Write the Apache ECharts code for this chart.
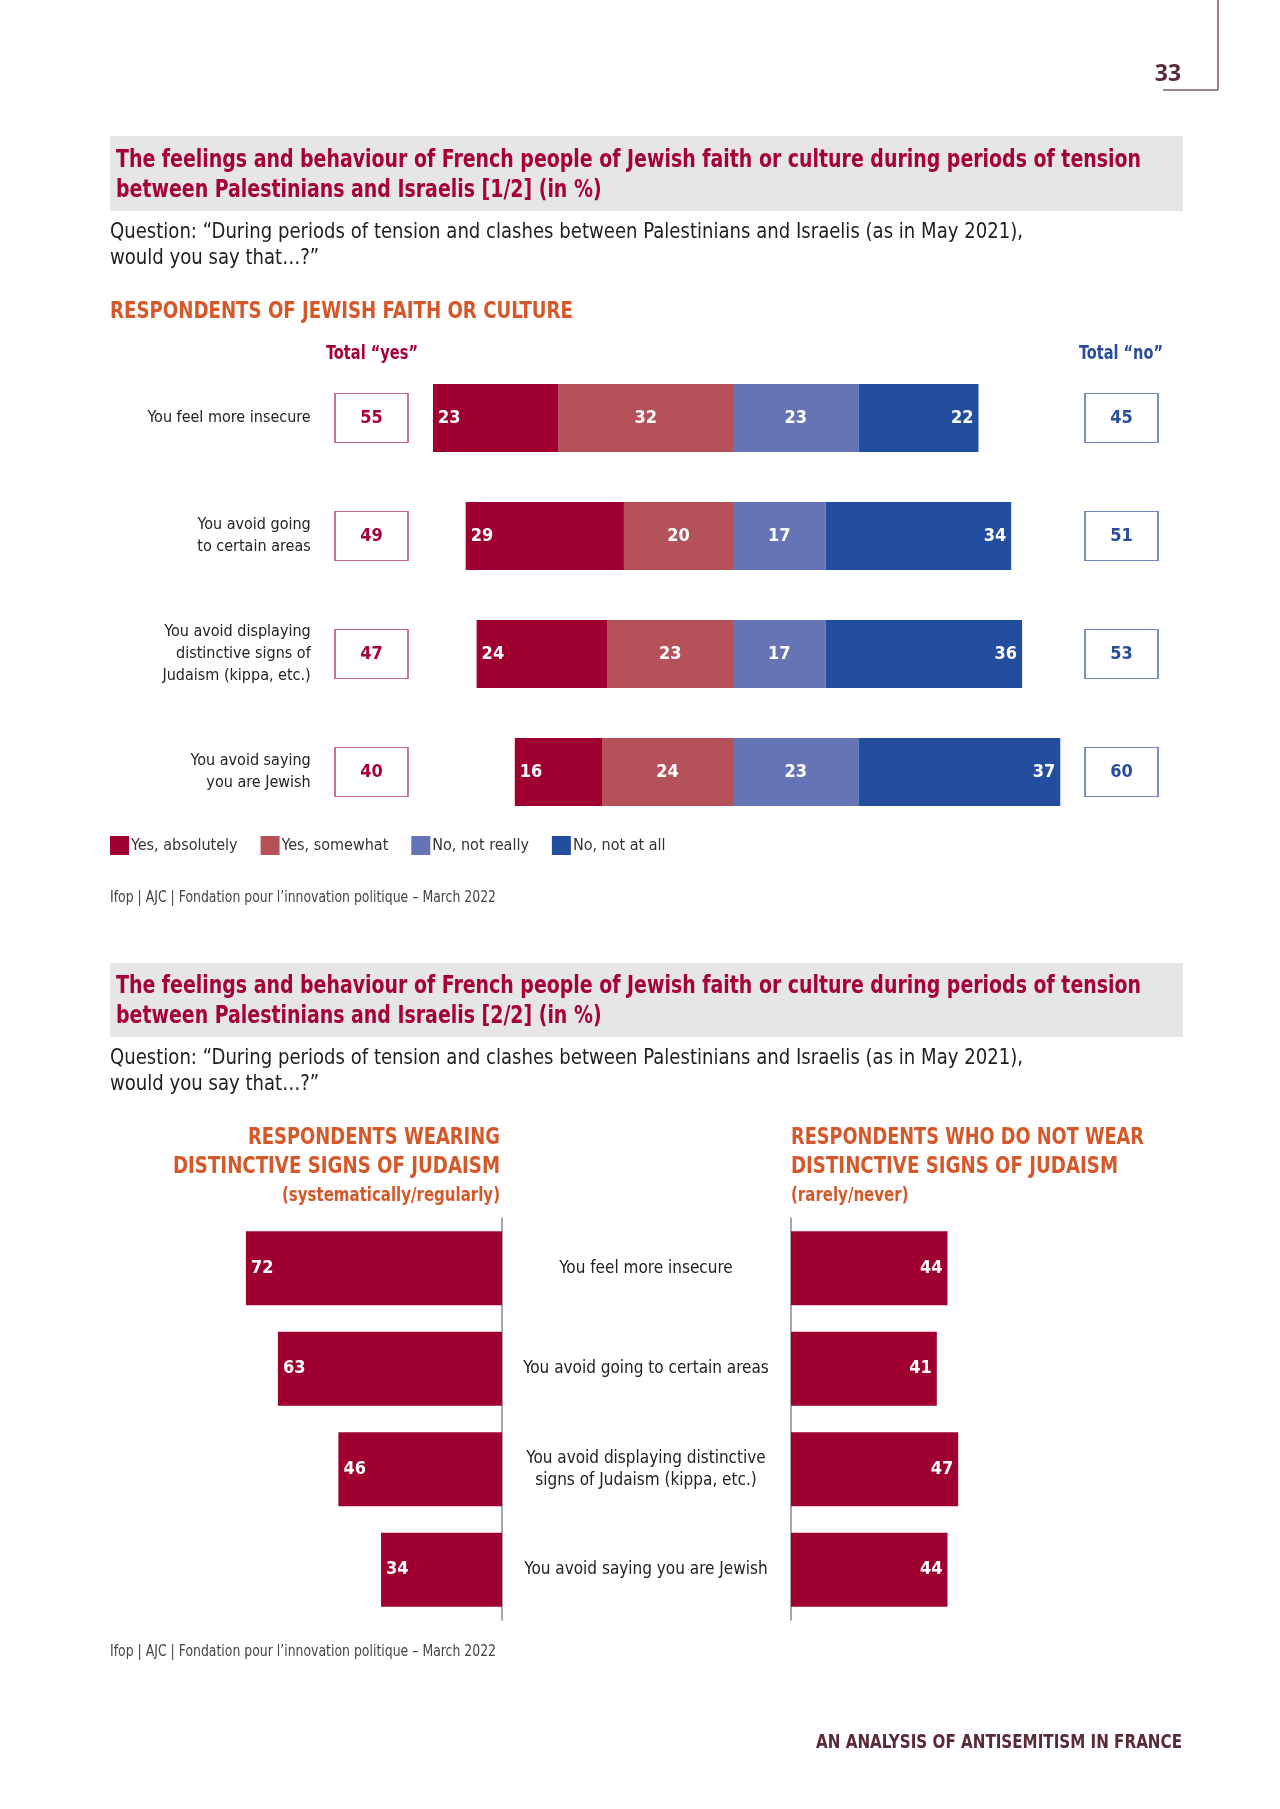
<!DOCTYPE html>
<html>
<head>
<meta charset="utf-8">
<script src="https://cdn.jsdelivr.net/npm/echarts@6/dist/echarts.min.js"></script>
<style>
html,body{margin:0;padding:0;background:#fff;}
#main{width:1280px;height:1809px;}
</style>
</head>
<body>
<div id="main"></div>
<script>
// ---------- DATA ----------
const categories1 = ['You feel more insecure', 'You avoid going\nto certain areas', 'You avoid displaying\ndistinctive signs of\nJudaism (kippa, etc.)', 'You avoid saying\nyou are Jewish'];
const seriesNames = ['Yes, absolutely', 'Yes, somewhat', 'No, not really', 'No, not at all'];
const yesAbsolutely = [23, 29, 24, 16];
const yesSomewhat = [32, 20, 23, 24];
const noNotReally = [23, 17, 17, 23];
const noNotAtAll = [22, 34, 36, 37];
const totalYes = [55, 49, 47, 40];
const totalNo = [45, 51, 53, 60];

const categories2 = ['You feel more insecure', 'You avoid going to certain areas', 'You avoid displaying distinctive\nsigns of Judaism (kippa, etc.)', 'You avoid saying you are Jewish'];
const wearing = [72, 63, 46, 34];
const notWearing = [44, 41, 47, 44];

// ---------- STYLE ----------
const FONT = '"Liberation Sans Narrow","DejaVu Sans Condensed","Liberation Sans",sans-serif';
const C_YA = '#a00030', C_YS = '#b55158', C_NR = '#6474b4', C_NA = '#234ea0';
const TITLE_C = '#a5003a', ORANGE = '#d4582a', TXT = '#222';

const chart = echarts.init(document.getElementById('main'), null, {renderer: 'canvas'});

const mctx = document.createElement('canvas').getContext('2d');
function measure(text, size, weight) {
  mctx.font = (weight || 'normal') + ' ' + size + 'px ' + FONT;
  return mctx.measureText(text).width;
}
// condensed text: horizontally scaled so that it spans the given width
function ctext(x, y, text, size, opt, width, scaleFrom) {
  opt = opt || {};
  const w = measure(scaleFrom || text, size, opt.fontWeight);
  const sx = width ? width / w : 1;
  return {type: 'text', x: x, y: y, scaleX: sx, silent: true, style: Object.assign({
    text: text, fontFamily: FONT, fontSize: size, fill: TXT, textAlign: 'left', textVerticalAlign: 'middle'
  }, opt)};
}

const T1 = 'The feelings and behaviour of French people of Jewish faith or culture during periods of tension';
const Q1 = 'Question: \u201cDuring periods of tension and clashes between Palestinians and Israelis (as in May 2021),';
const SRC = 'Ifop | AJC | Fondation pour l\u2019innovation politique \u2013 March 2022';
const B = {fontWeight: 'bold'};

const graphics = [
  // page corner rule
  {type: 'line', shape: {x1: 1218, y1: 0, x2: 1218, y2: 90}, style: {stroke: '#7d5a62', lineWidth: 1.5}},
  {type: 'line', shape: {x1: 1163, y1: 90, x2: 1218, y2: 90}, style: {stroke: '#7d5a62', lineWidth: 1.5}},
  {type: 'text', x: 1168, y: 74, style: {text: '33', fontFamily: '"Open Sans","Noto Sans",sans-serif', fontWeight: 'bold', fontSize: 23, fill: '#5a2a35', textAlign: 'center', textVerticalAlign: 'middle'}},
  // section 1 title
  {type: 'rect', shape: {x: 110, y: 136, width: 1073, height: 75}, style: {fill: '#e6e6e8'}},
  ctext(116, 160, T1, 25, Object.assign({fill: TITLE_C}, B), 1025),
  ctext(116, 190, 'between Palestinians and Israelis [1/2] (in %)', 25, Object.assign({fill: TITLE_C}, B), 1025, T1),
  ctext(110, 233, Q1, 21, {fill: '#1e1e1e'}, 913),
  ctext(110, 259, 'would you say that\u2026?\u201d', 21, {fill: '#1e1e1e'}, 913, Q1),
  ctext(110, 312, 'RESPONDENTS OF JEWISH FAITH OR CULTURE', 23, Object.assign({fill: ORANGE}, B), 463),
  ctext(372, 354, 'Total \u201cyes\u201d', 19, Object.assign({fill: TITLE_C, textAlign: 'center'}, B), 92),
  ctext(1121, 354, 'Total \u201cno\u201d', 19, Object.assign({fill: '#2a4d9b', textAlign: 'center'}, B), 84),
  ctext(110, 898, SRC, 15, {fill: '#444'}, 386),
  // section 2 title
  {type: 'rect', shape: {x: 110, y: 963, width: 1073, height: 74}, style: {fill: '#e6e6e8'}},
  ctext(116, 986, T1, 25, Object.assign({fill: TITLE_C}, B), 1025),
  ctext(116, 1016, 'between Palestinians and Israelis [2/2] (in %)', 25, Object.assign({fill: TITLE_C}, B), 1025, T1),
  ctext(110, 1059, Q1, 21, {fill: '#1e1e1e'}, 913),
  ctext(110, 1085, 'would you say that\u2026?\u201d', 21, {fill: '#1e1e1e'}, 913, Q1),
  ctext(500, 1138, 'RESPONDENTS WEARING', 23, Object.assign({fill: ORANGE, textAlign: 'right'}, B), 252),
  ctext(500, 1167, 'DISTINCTIVE SIGNS OF JUDAISM', 23, Object.assign({fill: ORANGE, textAlign: 'right'}, B), 327),
  ctext(500, 1196, '(systematically/regularly)', 19, Object.assign({fill: ORANGE, textAlign: 'right'}, B), 218),
  ctext(791, 1138, 'RESPONDENTS WHO DO NOT WEAR', 23, Object.assign({fill: ORANGE}, B), 353),
  ctext(791, 1167, 'DISTINCTIVE SIGNS OF JUDAISM', 23, Object.assign({fill: ORANGE}, B), 327),
  ctext(791, 1196, '(rarely/never)', 19, Object.assign({fill: ORANGE}, B), 218, '(systematically/regularly)'),
  ctext(110, 1652, SRC, 15, {fill: '#444'}, 386),
  ctext(1182, 1743, 'AN ANALYSIS OF ANTISEMITISM IN FRANCE', 19, Object.assign({fill: '#5a2a35', textAlign: 'right'}, B), 366)
];

const barLabel = (pos) => ({
  show: true, position: pos, distance: 5, color: '#fff', fontFamily: FONT, fontWeight: 'bold', fontSize: 18,
  formatter: p => Math.abs(p.value)
});

const hiddenCat = (gi, data) => ({type: 'category', gridIndex: gi, data: data, inverse: true, show: false});

const option = {
  animation: false,
  backgroundColor: '#fff',
  textStyle: {fontFamily: FONT},
  legend: {
    left: 110, top: 836, padding: 0, itemWidth: 19, itemHeight: 19, itemGap: 23, icon: 'rect',
    data: seriesNames,
    textStyle: {fontFamily: FONT, fontSize: 16, color: '#333', padding: [0, 0, 0, -3]},
    selectedMode: false
  },
  grid: [
    {left: 733 - 60 * 5.455, width: 120 * 5.455, top: 359, height: 472},   // diverging bars
    {left: 335, width: 73, top: 359, height: 472},                          // total yes
    {left: 1085, width: 73, top: 359, height: 472},                         // total no
    {left: 502 - 100 * 3.557, width: 100 * 3.557, top: 1218, height: 402}, // wearing
    {left: 791, width: 100 * 3.557, top: 1218, height: 402}                 // not wearing
  ],
  xAxis: [
    {type: 'value', gridIndex: 0, min: -60, max: 60, show: false},
    {type: 'value', gridIndex: 1, min: 0, max: 1, show: false},
    {type: 'value', gridIndex: 2, min: 0, max: 1, show: false},
    {type: 'value', gridIndex: 3, min: 0, max: 100, inverse: true, show: false},
    {type: 'value', gridIndex: 4, min: 0, max: 100, show: false}
  ],
  yAxis: [
    {type: 'category', gridIndex: 0, data: categories1, inverse: true,
     axisLine: {show: false}, axisTick: {show: false},
     axisLabel: {margin: 95, fontFamily: FONT, fontSize: 16, color: TXT, lineHeight: 22, align: 'right'}},
    hiddenCat(1, categories1),
    hiddenCat(2, categories1),
    {type: 'category', gridIndex: 3, data: categories2, inverse: true, position: 'right',
     axisLine: {show: true, lineStyle: {color: '#8a8a8a', width: 1.5}}, axisTick: {show: false},
     axisLabel: {margin: 144, align: 'center', fontFamily: FONT, fontSize: 17, color: TXT, lineHeight: 22}},
    {type: 'category', gridIndex: 4, data: categories2, inverse: true, position: 'left',
     axisLine: {show: true, lineStyle: {color: '#8a8a8a', width: 1.5}}, axisTick: {show: false},
     axisLabel: {show: false}}
  ],
  series: [
    {name: 'Yes, somewhat', type: 'bar', stack: 's1', xAxisIndex: 0, yAxisIndex: 0, barWidth: 68,
     itemStyle: {color: C_YS}, label: barLabel('inside'), data: yesSomewhat.map(v => -v)},
    {name: 'Yes, absolutely', type: 'bar', stack: 's1', xAxisIndex: 0, yAxisIndex: 0, barWidth: 68,
     itemStyle: {color: C_YA}, label: barLabel('insideLeft'), data: yesAbsolutely.map(v => -v)},
    {name: 'No, not really', type: 'bar', stack: 's1', xAxisIndex: 0, yAxisIndex: 0, barWidth: 68,
     itemStyle: {color: C_NR}, label: barLabel('inside'), data: noNotReally},
    {name: 'No, not at all', type: 'bar', stack: 's1', xAxisIndex: 0, yAxisIndex: 0, barWidth: 68,
     itemStyle: {color: C_NA}, label: barLabel('insideRight'), data: noNotAtAll},
    {type: 'scatter', xAxisIndex: 1, yAxisIndex: 1, symbol: 'rect', symbolSize: [73, 49],
     itemStyle: {color: '#fff', borderColor: '#c46a85', borderWidth: 1.5, opacity: 1},
     label: {show: true, position: 'inside', color: TITLE_C, fontFamily: FONT, fontWeight: 'bold', fontSize: 18,
             formatter: p => p.value[2]},
     data: totalYes.map((v, i) => [0.5, i, v])},
    {type: 'scatter', xAxisIndex: 2, yAxisIndex: 2, symbol: 'rect', symbolSize: [73, 49],
     itemStyle: {color: '#fff', borderColor: '#6f88c2', borderWidth: 1.5, opacity: 1},
     label: {show: true, position: 'inside', color: '#2a4d9b', fontFamily: FONT, fontWeight: 'bold', fontSize: 18,
             formatter: p => p.value[2]},
     data: totalNo.map((v, i) => [0.5, i, v])},
    {type: 'bar', xAxisIndex: 3, yAxisIndex: 3, barWidth: 74, itemStyle: {color: C_YA},
     label: barLabel('insideLeft'), data: wearing},
    {type: 'bar', xAxisIndex: 4, yAxisIndex: 4, barWidth: 74, itemStyle: {color: C_YA},
     label: barLabel('insideRight'), data: notWearing}
  ],
  graphic: graphics
};
chart.setOption(option);
</script>
</body>
</html>
